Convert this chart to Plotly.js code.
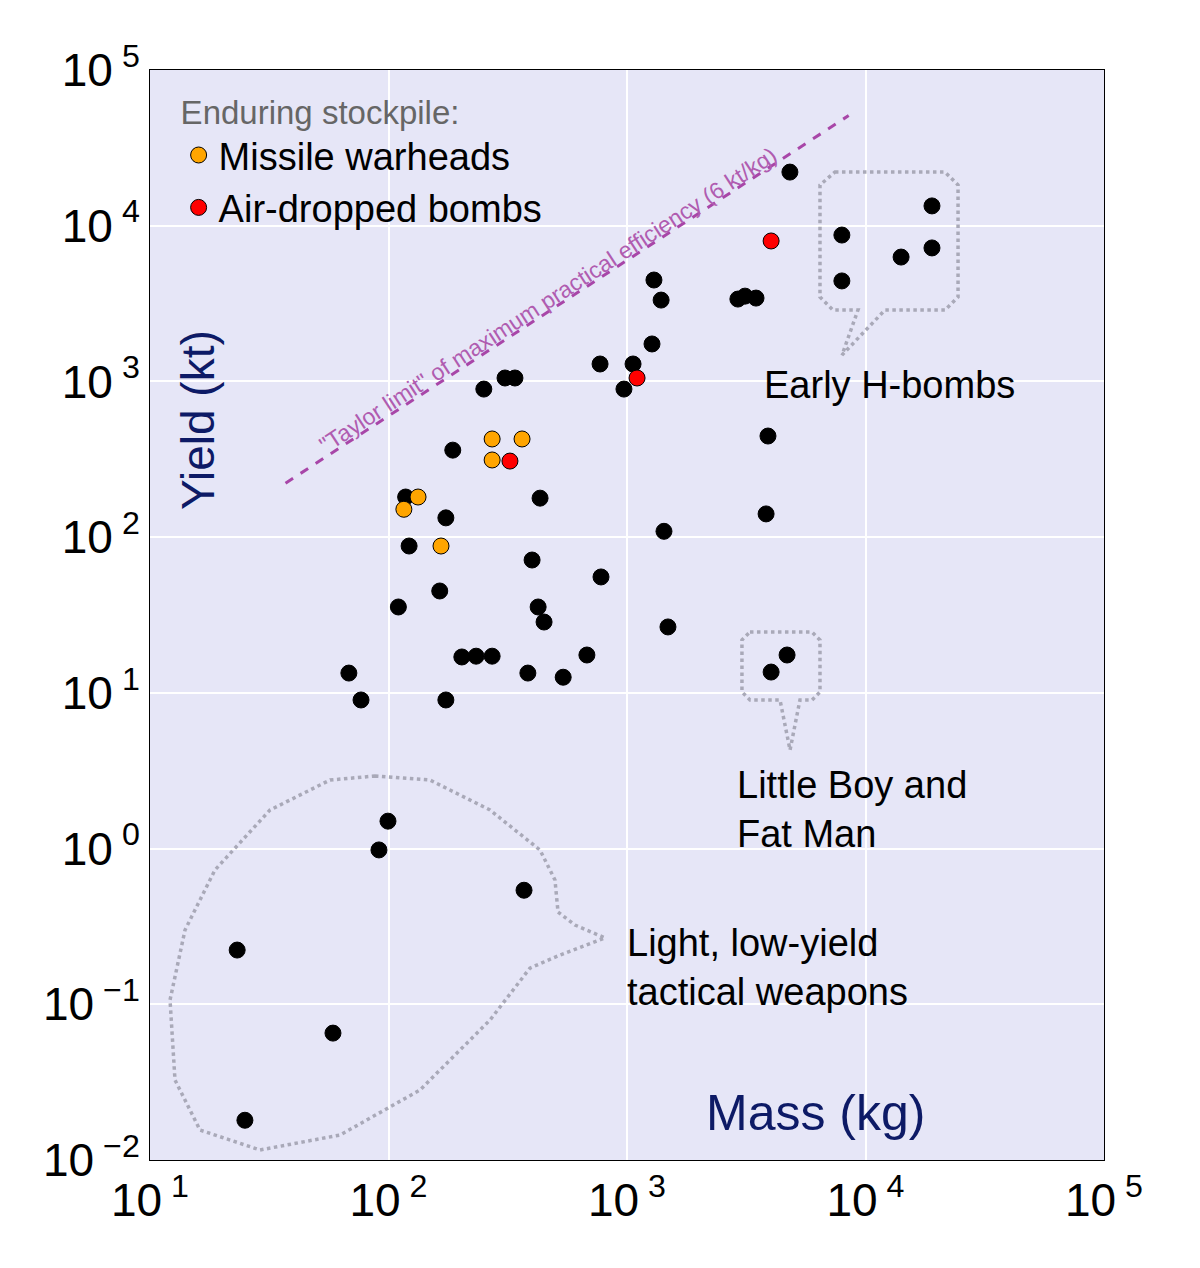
<!DOCTYPE html>
<html>
<head>
<meta charset="utf-8">
<script src="https://cdn.plot.ly/plotly-3.0.1.min.js"></script>
<style>body{margin:0;background:#fff}</style>
</head>
<body>
<div id="chart" style="width:1200px;height:1268px"></div>
<script>
// other weapons (kg, kt)
var massOther = [4820,7960,7960,19000,19000,14100,1297,1390,2917,3125,3475,1273,771,1060,971,251,308,339,186,118,174,122,432,1429,3900,3830,400,778,164,110,424,449,1485,203,233,272,679,384,540,68.2,76.7,174,4690,4020,99.5,91.2,370,23.2,58.5,25.0];
var yieldOther = [22100,8710,4420,13400,7200,6290,4480,3330,3380,3530,3430,1740,1294,1294,893,893,1052,1052,362,181,133,87.7,178,109,446,141,71.3,55.5,45.1,35.6,35.6,28.5,26.5,17.0,17.2,17.2,17.5,13.4,12.6,13.4,9.0,9.0,17.5,13.6,1.50,0.98,0.54,0.223,0.0653,0.018];
var massMissile = [272,363,272,133,116,166];
var yieldMissile = [427,427,313,181,151,87.7];
var massBomb = [4020,1102,323];
var yieldBomb = [7980,1052,308];
var taylorMass = [37,8500];
var taylorRatio = 6; // kt per kg
var taylorYield = taylorMass.map(function(m){return m*taylorRatio;});
var decades = [1,2,3,4,5];
var yDecades = [-2,-1,0,1,2,3,4,5];

function sup(e){ return '10<sup> ' + String(e).replace('-','\u2212') + '</sup>'; }

// pixel -> paper helpers for decorative callouts and labels
function px(x){ return (x-150)/954; }
function py(y){ return (1160-y)/1090; }
function P(pts){
  return pts.map(function(p,i){
    return (i?'L':'M')+px(p[0]).toFixed(4)+','+py(p[1]).toFixed(4);
  }).join(' ')+' Z';
}
var dotLine = {color:'#a9a9b8', width:3.5, dash:'dot'};

var mk = function(c){ return {size:16, color:c, line:{color:'#000', width:1}}; };
var traces = [
  {x:taylorMass, y:taylorYield, mode:'lines', line:{color:'#a846a8', width:3, dash:'dash'}, showlegend:false, hoverinfo:'skip'},
  {x:massOther, y:yieldOther, mode:'markers', marker:mk('#000'), showlegend:false},
  {x:massMissile, y:yieldMissile, mode:'markers', marker:mk('#ffa500'), name:'Missile warheads'},
  {x:massBomb, y:yieldBomb, mode:'markers', marker:mk('#ff0000'), name:'Air-dropped bombs'}
];

function label(x, y, text, opts){
  var a = {xref:'paper', yref:'paper', x:px(x), y:py(y), text:text, showarrow:false,
    xanchor:'center', yanchor:'middle', font:{size:38}};
  for (var k in opts) a[k] = opts[k];
  return a;
}

var layout = {
  width:1200, height:1268,
  margin:{l:150, r:96, t:70, b:108},
  paper_bgcolor:'#fff', plot_bgcolor:'#e6e6f7',
  font:{family:'Liberation Sans, Arial, sans-serif', color:'#000'},
  xaxis:{type:'log', range:[1,5], tickvals:decades.map(function(d){return Math.pow(10,d);}), ticktext:decades.map(sup),
    tickfont:{size:46}, gridcolor:'#fff', gridwidth:1.5, showline:true, linecolor:'#000', mirror:true, zeroline:false, ticks:''},
  yaxis:{type:'log', range:[-2,5], tickvals:yDecades.map(function(d){return Math.pow(10,d);}), ticktext:yDecades.map(sup),
    tickfont:{size:46}, gridcolor:'#fff', gridwidth:1.5, showline:true, linecolor:'#000', mirror:true, zeroline:false, ticks:''},
  showlegend:true,
  legend:{x:0.03, y:0.99, xanchor:'left', yanchor:'top', bgcolor:'rgba(0,0,0,0)', font:{size:38},
    title:{text:'Enduring stockpile:', font:{size:33, color:'#666'}}, tracegroupgap:0},
  shapes:[
    {type:'path', xref:'paper', yref:'paper', line:dotLine, path:P([[835,172],[945,172],[958,185],[958,297],[945,310],[885,310],[842,355],[858,310],[833,310],[820,297],[820,185]])},
    {type:'path', xref:'paper', yref:'paper', line:dotLine, path:P([[750,632],[812,632],[820,640],[820,692],[812,700],[800,700],[790,750],[780,700],[750,700],[742,692],[742,640]])},
    {type:'path', xref:'paper', yref:'paper', line:dotLine, path:P([[375,776],[430,780],[490,810],[540,850],[555,880],[558,912],[575,925],[605,938],[560,955],[530,968],[490,1020],[420,1090],[340,1135],[260,1150],[200,1130],[175,1080],[170,1000],[185,930],[215,870],[270,810],[330,780]])}
  ],
  annotations:[
    label(198, 420, 'Yield (kt)', {textangle:-90, font:{size:46, color:'#0d1a66'}}),
    label(815, 1113, 'Mass (kg)', {font:{size:50, color:'#0d1a66'}}),
    label(548, 300, '"Taylor limit" of maximum practical efficiency (6 kt/kg)', {textangle:-33, font:{size:23, color:'#b05cb0'}}),
    label(762, 385, 'Early H-bombs', {xanchor:'left'}),
    label(735, 810, 'Little Boy and<br>Fat Man', {xanchor:'left', align:'left'}),
    label(625, 967, 'Light, low-yield<br>tactical weapons', {xanchor:'left', align:'left'})
  ]
};
Plotly.newPlot('chart', traces, layout, {displayModeBar:false});
</script>
</body>
</html>
